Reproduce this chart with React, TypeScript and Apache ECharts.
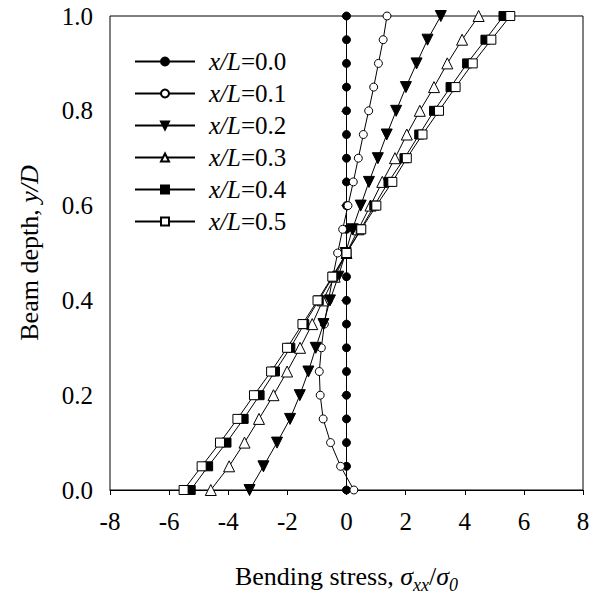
import React, { useEffect, useRef } from "react";
import * as echarts from "echarts";

const depth = [0, 0.05, 0.1, 0.15, 0.2, 0.25, 0.3, 0.35, 0.4, 0.45, 0.5, 0.55, 0.6, 0.65, 0.7, 0.75, 0.8, 0.85, 0.9, 0.95, 1.0];
const s00 = [0, 0, 0, 0, 0, 0, 0, 0, 0, 0, 0, 0, 0, 0, 0, 0, 0, 0, 0, 0, 0];
const s01 = [0.25, -0.2, -0.54, -0.79, -0.89, -0.92, -0.85, -0.75, -0.61, -0.46, -0.3, -0.13, 0.05, 0.23, 0.4, 0.57, 0.75, 0.92, 1.08, 1.24, 1.37];
const s02 = [-3.28, -2.81, -2.35, -1.91, -1.58, -1.29, -1.04, -0.78, -0.56, -0.28, -0.03, 0.2, 0.48, 0.76, 1.06, 1.36, 1.68, 2.01, 2.37, 2.74, 3.19];
const s03 = [-4.59, -3.97, -3.45, -2.96, -2.47, -2.01, -1.57, -1.16, -0.8, -0.4, 0, 0.4, 0.81, 1.21, 1.64, 2.04, 2.48, 2.96, 3.41, 3.91, 4.47];
const s04 = [-5.27, -4.68, -4.06, -3.48, -2.94, -2.42, -1.9, -1.43, -0.94, -0.46, 0, 0.48, 0.94, 1.42, 1.96, 2.46, 2.96, 3.52, 4.08, 4.7, 5.31];
const s05 = [-5.51, -4.9, -4.28, -3.69, -3.13, -2.55, -2.01, -1.49, -0.98, -0.48, 0, 0.5, 1.01, 1.55, 2.04, 2.57, 3.13, 3.69, 4.27, 4.9, 5.54];
const ratios = ["0.0", "0.1", "0.2", "0.3", "0.4", "0.5"];

const FONT = "Liberation Serif";

export default function App() {
  const ref = useRef<HTMLDivElement>(null);
  useEffect(() => {
    if (!ref.current) return;
    const chart = echarts.init(ref.current, null, { renderer: "svg" });
    const all = [s00, s01, s02, s03, s04, s05];
    const styles = [
      { symbol: "circle", size: 8, fill: "#000", rotate: 0 },
      { symbol: "circle", size: 8, fill: "#fff", rotate: 0 },
      { symbol: "triangle", size: 11, fill: "#000", rotate: 180 },
      { symbol: "triangle", size: 11, fill: "#fff", rotate: 0 },
      { symbol: "rect", size: 9, fill: "#000", rotate: 0 },
      { symbol: "rect", size: 9, fill: "#fff", rotate: 0 },
    ];
    const series = all.map((vals, i) => ({
      type: "line",
      name: "x/L=" + ratios[i],
      data: vals.map((v, k) => [v, depth[k]]),
      symbol: styles[i].symbol,
      symbolSize: styles[i].size,
      symbolRotate: styles[i].rotate,
      showAllSymbol: true,
      lineStyle: { color: "#000", width: 1 },
      itemStyle: { color: styles[i].fill, borderColor: "#000", borderWidth: 1 },
      emphasis: { disabled: true },
      z: 2 + i,
    }));
    chart.setOption({
      animation: false,
      backgroundColor: "#fff",
      grid: { left: 110, right: 22, top: 16, bottom: 113, show: true, borderColor: "#000", borderWidth: 1 },
      legend: {
        orient: "vertical",
        left: 134,
        top: 49,
        padding: 0,
        itemWidth: 60,
        itemHeight: 10,
        itemGap: 7,
        formatter: (name: string) => "{i|x/L}=" + name.split("=")[1],
        textStyle: {
          fontFamily: FONT,
          fontSize: 25,
          color: "#000",
          padding: [0, 0, 0, 9],
          rich: { i: { fontFamily: FONT, fontSize: 25, fontStyle: "italic", color: "#000" } },
        },
        data: ratios.map((r) => "x/L=" + r),
      },
      xAxis: {
        type: "value",
        min: -8,
        max: 8,
        interval: 2,
        axisLine: { show: true, lineStyle: { color: "#000", width: 1 } },
        axisTick: { show: true, length: 5, lineStyle: { color: "#000" } },
        axisLabel: { color: "#000", fontFamily: FONT, fontSize: 25, margin: 19 },
        splitLine: { show: false },
        name: "{n|Bending stress, }{g|σ}{s|xx}{n|/}{g|σ}{s|0}",
        nameLocation: "middle",
        nameGap: 69,
        nameTextStyle: {
          fontFamily: FONT,
          fontSize: 26,
          color: "#000",
          rich: {
            n: { fontFamily: FONT, fontSize: 26, color: "#000", lineHeight: 35 },
            g: { fontFamily: FONT, fontSize: 26, fontStyle: "italic", color: "#000", lineHeight: 35 },
            s: { fontFamily: FONT, fontSize: 18, fontStyle: "italic", color: "#000", lineHeight: 35, verticalAlign: "bottom" },
          },
        },
      },
      yAxis: {
        type: "value",
        min: 0,
        max: 1,
        interval: 0.2,
        axisLine: { show: true, lineStyle: { color: "#000", width: 1 } },
        axisTick: { show: true, length: 5, lineStyle: { color: "#000" } },
        axisLabel: { color: "#000", fontFamily: FONT, fontSize: 25, margin: 17, formatter: (v: number) => v.toFixed(1) },
        splitLine: { show: false },
        name: "{n|Beam depth, }{i|y/D}",
        nameLocation: "middle",
        nameRotate: 90,
        nameGap: 68,
        nameTextStyle: {
          fontFamily: FONT,
          fontSize: 26,
          color: "#000",
          rich: {
            n: { fontFamily: FONT, fontSize: 26, color: "#000" },
            i: { fontFamily: FONT, fontSize: 26, fontStyle: "italic", color: "#000" },
          },
        },
      },
      series,
    });
    return () => chart.dispose();
  }, []);
  return <div ref={ref} style={{ width: 605, height: 603, position: "absolute", left: 0, top: 0 }} />;
}
